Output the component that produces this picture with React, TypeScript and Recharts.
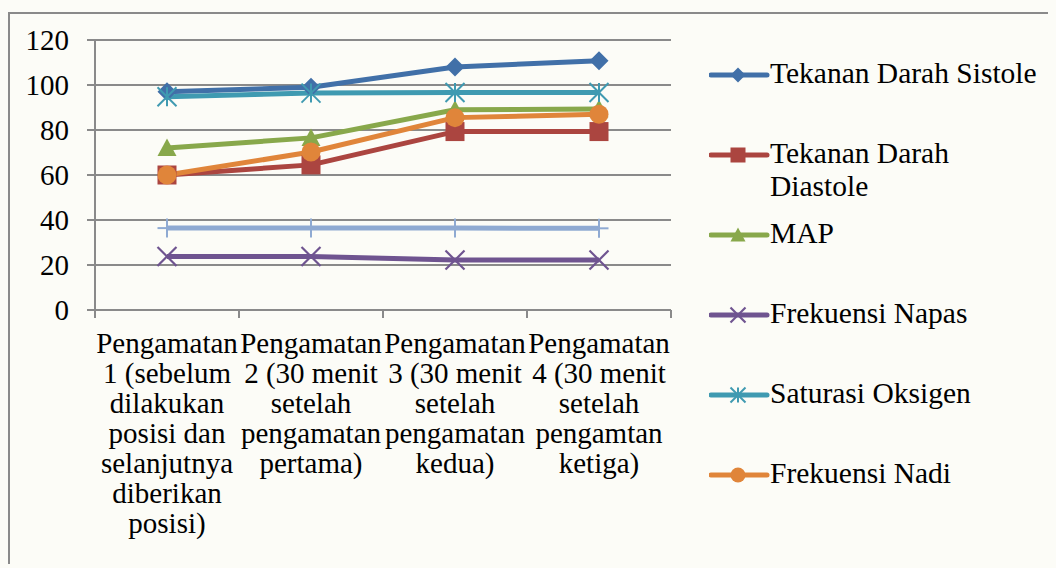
import React from 'react'
import { LineChart, Line, XAxis, YAxis, CartesianGrid, Legend } from 'recharts'

const categoryLines = [
  ['Pengamatan', '1 (sebelum', 'dilakukan', 'posisi dan', 'selanjutnya', 'diberikan', 'posisi)'],
  ['Pengamatan', '2 (30 menit', 'setelah', 'pengamatan', 'pertama)'],
  ['Pengamatan', '3 (30 menit', 'setelah', 'pengamatan', 'kedua)'],
  ['Pengamatan', '4 (30 menit', 'setelah', 'pengamtan', 'ketiga)'],
]
const categories = categoryLines.map((l) => l.join(' '))

const sistole = [97, 99, 108, 110.8]
const diastole = [60, 64.5, 79.3, 79.3]
const map = [72, 76.5, 89, 89.3]
const napas = [23.8, 23.8, 22.2, 22.2]
const saturasi = [94.8, 96.4, 96.7, 96.7]
const nadi = [60, 70.2, 85.5, 87]
const suhu = [36.4, 36.4, 36.4, 36.3]
const yTicks = [0, 20, 40, 60, 80, 100, 120]

type Shape = 'diamond' | 'square' | 'triangle' | 'x' | 'asterisk' | 'circle' | 'plus'

const series: { key: string; name: string; values: number[]; color: string; shape: Shape; legend: boolean }[] = [
  { key: 'sistole', name: 'Tekanan Darah Sistole', values: sistole, color: '#4170A8', shape: 'diamond', legend: true },
  { key: 'diastole', name: 'Tekanan Darah Diastole', values: diastole, color: '#AB4540', shape: 'square', legend: true },
  { key: 'map', name: 'MAP', values: map, color: '#88A84B', shape: 'triangle', legend: true },
  { key: 'napas', name: 'Frekuensi Napas', values: napas, color: '#6F5490', shape: 'x', legend: true },
  { key: 'saturasi', name: 'Saturasi Oksigen', values: saturasi, color: '#3F9AB1', shape: 'asterisk', legend: true },
  { key: 'nadi', name: 'Frekuensi Nadi', values: nadi, color: '#E0853A', shape: 'circle', legend: true },
  { key: 'suhu', name: 'Suhu', values: suhu, color: '#8FAAD2', shape: 'plus', legend: false },
]

const data = categories.map((name, i) => {
  const row: Record<string, string | number> = { name }
  series.forEach((s) => (row[s.key] = s.values[i]))
  return row
})

const FONT = 'Liberation Serif'
const GRID = '#8a8a8a'
const BG = '#fcfcf7'
const HALF_BAND = 72

function Marker({ cx, cy, shape, color, size = 19 }: { cx: number; cy: number; shape: Shape; color: string; size?: number }) {
  const r = size / 2
  switch (shape) {
    case 'diamond':
      return <polygon points={`${cx},${cy - r} ${cx + r},${cy} ${cx},${cy + r} ${cx - r},${cy}`} fill={color} />
    case 'square':
      return <rect x={cx - r} y={cy - r} width={size} height={size} fill={color} />
    case 'triangle':
      return <polygon points={`${cx},${cy - r} ${cx + r},${cy + r * 0.85} ${cx - r},${cy + r * 0.85}`} fill={color} />
    case 'circle':
      return <circle cx={cx} cy={cy} r={r} fill={color} />
    case 'x':
      return (
        <g stroke={color} strokeWidth={2.2}>
          <line x1={cx - r} y1={cy - r} x2={cx + r} y2={cy + r} />
          <line x1={cx - r} y1={cy + r} x2={cx + r} y2={cy - r} />
        </g>
      )
    case 'asterisk':
      return (
        <g stroke={color} strokeWidth={2}>
          <line x1={cx - r} y1={cy - r} x2={cx + r} y2={cy + r} />
          <line x1={cx - r} y1={cy + r} x2={cx + r} y2={cy - r} />
          <line x1={cx} y1={cy - r} x2={cx} y2={cy + r} />
        </g>
      )
    case 'plus':
      return (
        <g stroke={color} strokeWidth={2}>
          <line x1={cx - r} y1={cy} x2={cx + r} y2={cy} />
          <line x1={cx} y1={cy - r} x2={cx} y2={cy + r} />
        </g>
      )
  }
  return null
}

function CategoryTick(props: any) {
  const { x, y, index } = props
  const lines = categoryLines[index] || []
  const axisY = y - 8
  return (
    <g>
      <line x1={x - HALF_BAND} y1={axisY} x2={x - HALF_BAND} y2={axisY + 8} stroke={GRID} strokeWidth={2} />
      {index === categories.length - 1 && (
        <line x1={x + HALF_BAND} y1={axisY} x2={x + HALF_BAND} y2={axisY + 8} stroke={GRID} strokeWidth={2} />
      )}
      <text x={x} y={axisY} textAnchor="middle" fontFamily={FONT} fontSize={29} fill="#000">
        {lines.map((l, i) => (
          <tspan key={i} x={x} dy={i === 0 ? 43 : 30}>
            {l}
          </tspan>
        ))}
      </text>
    </g>
  )
}

function ValueTick(props: any) {
  const { x, y, payload } = props
  return (
    <text x={x} y={y} dy={10} textAnchor="end" fontFamily={FONT} fontSize={29} fill="#000">
      {payload.value}
    </text>
  )
}

function LegendBox() {
  return (
    <div style={{ position: 'relative', width: 350, height: 554, fontFamily: FONT, fontSize: 29.5, color: '#000' }}>
      {series
        .filter((s) => s.legend)
        .map((s, i) => (
          <div key={s.key} style={{ position: 'absolute', top: 43 + 80 * i, left: 0, width: 350 }}>
            <svg width={62} height={24} style={{ position: 'absolute', left: 3, top: 6 }}>
              <line x1={2} y1={12} x2={58} y2={12} stroke={s.color} strokeWidth={5} strokeLinecap="round" />
              <Marker cx={29} cy={12} shape={s.shape} color={s.color} size={15} />
            </svg>
            <div style={{ marginLeft: 64, width: 276, lineHeight: '33px' }}>{s.name}</div>
          </div>
        ))}
    </div>
  )
}

export default function App() {
  return (
    <>
      <div style={{ position: 'fixed', inset: 0, background: BG, zIndex: -1 }} />
      <div
        style={{
          position: 'relative',
          top: 4,
          width: 1048,
          height: 556,
          boxSizing: 'border-box',
          borderLeft: `2px solid ${GRID}`,
          borderTop: `2px solid ${GRID}`,
          background: BG,
          overflow: 'hidden',
          fontFamily: FONT,
        }}
      >
        <LineChart
          width={1046}
          height={554}
          data={data}
          margin={{ top: 26, right: 35, bottom: 8, left: 0 }}
          style={{ fontFamily: FONT }}
        >
          <CartesianGrid horizontal vertical={false} stroke={GRID} strokeWidth={2} />
          <XAxis
            dataKey="name"
            interval={0}
            height={250}
            padding={{ left: HALF_BAND, right: HALF_BAND }}
            axisLine={{ stroke: GRID, strokeWidth: 2 }}
            tickLine={false}
            tickSize={8}
            tickMargin={0}
            tick={<CategoryTick />}
          />
          <YAxis
            width={85}
            domain={[0, 120]}
            ticks={yTicks}
            interval={0}
            axisLine={{ stroke: GRID, strokeWidth: 2 }}
            tickLine={{ stroke: GRID, strokeWidth: 2 }}
            tickSize={8}
            tickMargin={18}
            tick={<ValueTick />}
          />
          <Legend
            layout="vertical"
            align="right"
            verticalAlign="top"
            wrapperStyle={{ right: 0, top: 0, width: 350, height: 554 }}
            content={() => <LegendBox />}
          />
          {series.map((s) => (
            <Line
              key={s.key}
              dataKey={s.key}
              name={s.name}
              stroke={s.color}
              strokeWidth={5}
              strokeLinejoin="round"
              legendType={s.legend ? 'line' : 'none'}
              isAnimationActive={false}
              activeDot={false}
              dot={(p: any) => <Marker key={`${s.key}-${p.index}`} cx={p.cx} cy={p.cy} shape={s.shape} color={s.color} />}
            />
          ))}
        </LineChart>
      </div>
    </>
  )
}
